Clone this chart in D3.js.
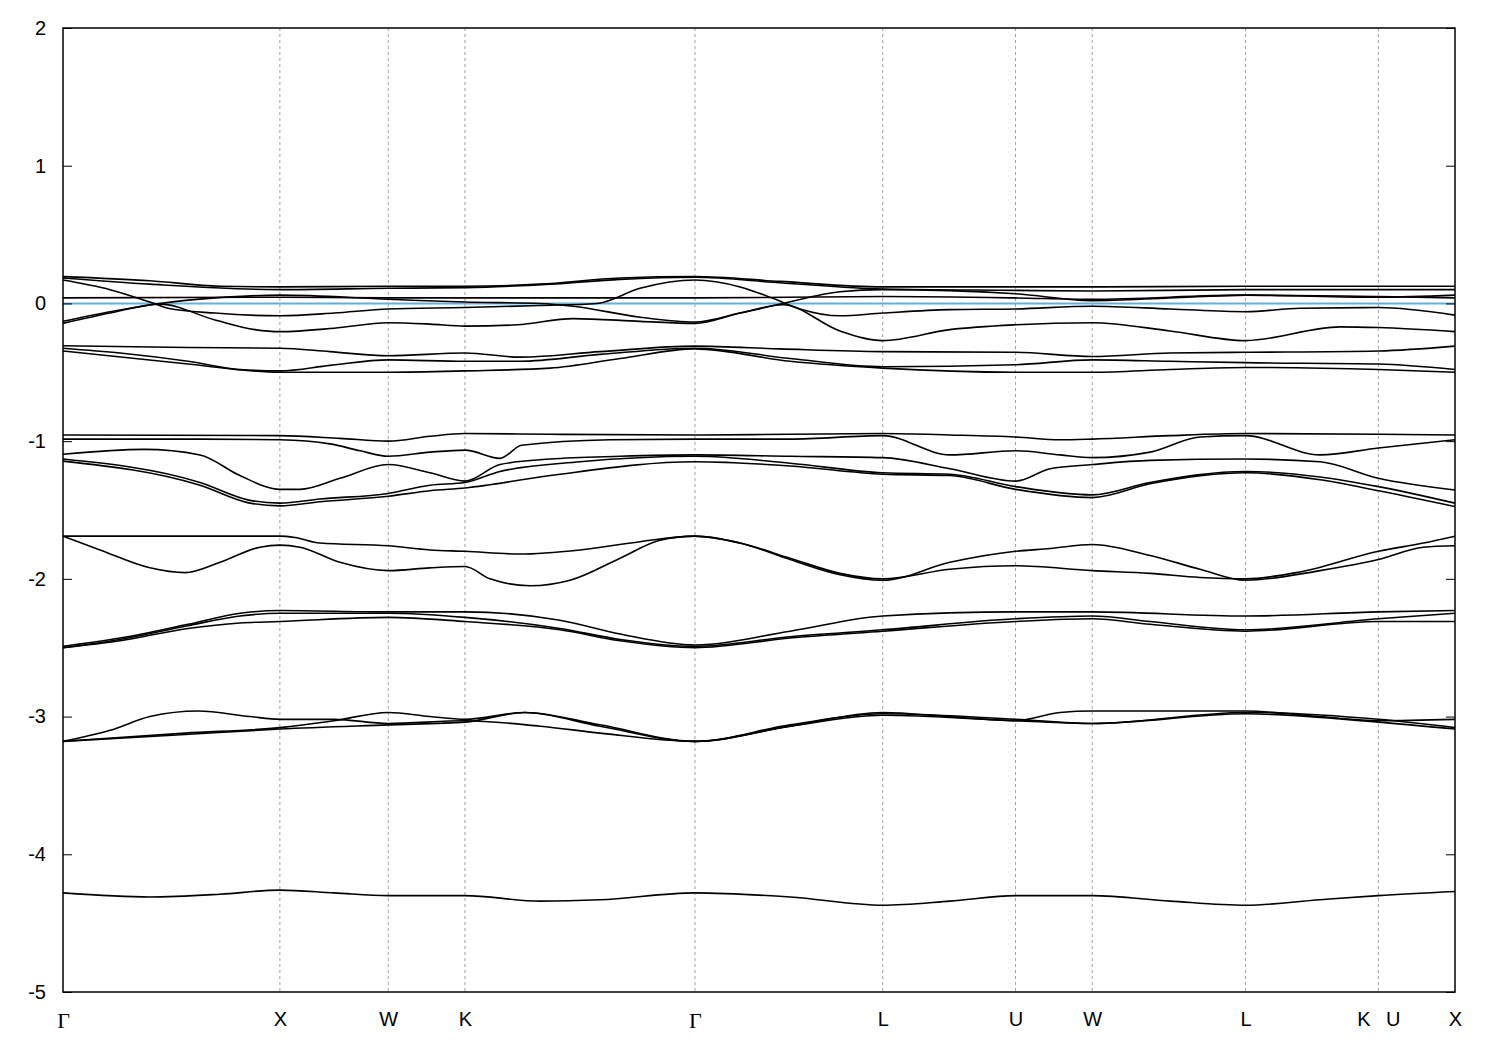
<!DOCTYPE html>
<html><head><meta charset="utf-8">
<script src="https://cdn.jsdelivr.net/npm/d3@7"></script>
<style>body{margin:0;background:#fff}svg{display:block}</style>
</head><body>
<script>
// High-symmetry path (k in units of 2pi/a, cumulative path length)
const kTicks = [0, 1.0, 1.5, 1.8536, 2.9142, 3.7802, 4.3926, 4.7462, 5.4533, 6.0657, 6.4192];
const kLabels = ["Γ", "X", "W", "K", "Γ", "L", "U", "W", "L", "K \u2002U", "X"];
const yTicks = [2, 1, 0, -1, -2, -3, -4, -5];
const fermiLevel = 0;

// Bands near the Fermi level
const bandA1 = [[0,.195],[0.401,.165],[0.724,.125],[1.0,.12],[1.5,.125],[1.854,.125],[2.2,.14],[2.569,.185],[2.914,.195],[3.306,.16],[3.78,.12],[4.393,.12],[4.746,.12],[5.453,.125],[6.066,.125],[6.419,.125]];
const bandA2 = [[0,.185],[0.401,.14],[1.0,.10],[1.5,.11],[1.854,.115],[2.246,.14],[2.569,.175],[2.914,.19],[3.306,.15],[3.78,.105],[4.393,.095],[4.746,.09],[5.453,.10],[6.066,.10],[6.419,.10]];
const bandA3 = [[0,.17],[0.217,.10],[0.41,.005],[0.484,-.035],[0.701,-.07],[1.0,-.09],[1.25,-.07],[1.5,-.04],[1.854,-.03],[2.2,-.015],[2.463,0],[2.661,.11],[2.914,.17],[3.122,.12],[3.274,.037],[3.399,-.04],[3.583,-.09],[3.78,-.07],[4.09,-.045],[4.393,-.04],[4.746,-.02],[5.105,-.04],[5.453,-.06],[5.704,-.035],[6.066,-.03],[6.419,-.085]];
const bandA4 = [[0,.04],[1.0,.045],[1.5,.04],[1.854,.04],[2.914,.04],[3.78,.05],[4.393,.04],[4.746,.03],[5.453,.06],[6.066,.05],[6.419,.04]];
const bandA5 = [[0,-.13],[0.217,-.06],[0.447,0],[0.701,.04],[1.0,.06],[1.5,.03],[1.854,.01],[2.2,0],[2.352,-.02],[2.661,-.10],[2.914,-.135],[3.122,-.07],[3.32,0],[3.583,.085],[3.78,.10],[4.393,.07],[4.746,.02],[5.105,.04],[5.453,.06],[6.066,.045],[6.419,.06]];
const bandA6 = [[0,-.145],[0.217,-.07],[0.447,-.005],[0.701,-.12],[0.885,-.19],[1.0,-.205],[1.25,-.18],[1.5,-.14],[1.692,-.15],[1.854,-.165],[2.094,-.155],[2.352,-.11],[2.661,-.13],[2.914,-.145],[3.122,-.07],[3.32,-.01],[3.583,-.2],[3.78,-.27],[4.09,-.19],[4.393,-.155],[4.746,-.14],[5.105,-.2],[5.453,-.27],[5.889,-.17],[6.066,-.175],[6.419,-.205]];

// -0.3 .. -0.5 group
const bandD1 = [[0,-.307],[0.576,-.32],[1.0,-.325],[1.231,-.35],[1.5,-.38],[1.854,-.36],[2.107,-.39],[2.476,-.35],[2.914,-.31],[3.306,-.33],[3.78,-.35],[4.393,-.355],[4.746,-.385],[5.105,-.36],[5.453,-.355],[6.066,-.345],[6.419,-.31]];
const bandD2 = [[0,-.325],[0.263,-.36],[0.576,-.42],[0.816,-.48],[1.0,-.49],[1.231,-.45],[1.5,-.41],[1.854,-.42],[2.107,-.42],[2.476,-.37],[2.914,-.325],[3.353,-.40],[3.78,-.46],[4.393,-.445],[4.746,-.41],[5.105,-.42],[5.453,-.43],[6.066,-.44],[6.419,-.48]];
const bandD3 = [[0,-.345],[0.576,-.44],[1.0,-.50],[1.5,-.50],[1.854,-.49],[2.246,-.47],[2.569,-.40],[2.914,-.33],[3.353,-.42],[3.78,-.47],[4.393,-.50],[4.746,-.50],[5.105,-.48],[5.453,-.465],[6.066,-.48],[6.419,-.50]];

// -1 .. -1.5 group
const bandC1 = [[0,-.955],[1.0,-.96],[1.277,-.98],[1.5,-1.0],[1.692,-.965],[1.854,-.945],[2.246,-.95],[2.914,-.955],[3.353,-.95],[3.78,-.945],[4.09,-.955],[4.393,-.97],[4.598,-.99],[4.746,-.985],[5.105,-.96],[5.453,-.945],[6.066,-.95],[6.419,-.955]];
const bandC2 = [[0,-.985],[0.632,-.985],[1.0,-.99],[1.231,-1.02],[1.37,-1.07],[1.5,-1.11],[1.692,-1.08],[1.854,-1.065],[2.015,-1.125],[2.115,-1.03],[2.522,-.99],[2.914,-.985],[3.353,-.985],[3.78,-.96],[4.09,-1.1],[4.393,-1.07],[4.598,-1.1],[4.746,-1.12],[5.013,-1.08],[5.243,-.97],[5.453,-.96],[5.797,-1.1],[6.066,-1.05],[6.419,-.99]];
const bandC3 = [[0,-1.095],[0.374,-1.06],[0.632,-1.1],[0.816,-1.25],[1.0,-1.35],[1.093,-1.35],[1.277,-1.27],[1.5,-1.17],[1.692,-1.23],[1.854,-1.29],[2.015,-1.17],[2.246,-1.13],[2.569,-1.11],[2.914,-1.10],[3.353,-1.11],[3.78,-1.12],[4.09,-1.2],[4.393,-1.29],[4.552,-1.2],[4.746,-1.17],[5.013,-1.14],[5.453,-1.13],[5.797,-1.15],[6.066,-1.27],[6.419,-1.355]];
const bandC4 = [[0,-1.13],[0.632,-1.3],[0.862,-1.43],[1.0,-1.45],[1.185,-1.42],[1.5,-1.38],[1.692,-1.32],[1.854,-1.30],[2.015,-1.22],[2.384,-1.15],[2.914,-1.11],[3.353,-1.16],[3.78,-1.23],[4.09,-1.24],[4.393,-1.33],[4.746,-1.39],[5.013,-1.3],[5.453,-1.22],[5.797,-1.26],[6.066,-1.33],[6.419,-1.45]];
const bandC5 = [[0,-1.145],[0.632,-1.32],[0.862,-1.45],[1.0,-1.47],[1.185,-1.44],[1.5,-1.40],[1.692,-1.36],[1.854,-1.34],[2.246,-1.25],[2.914,-1.15],[3.353,-1.18],[3.78,-1.24],[4.09,-1.25],[4.393,-1.35],[4.746,-1.41],[5.013,-1.31],[5.453,-1.23],[5.797,-1.28],[6.066,-1.36],[6.419,-1.475]];

// -1.7 .. -2.05 group
const bandE1 = [[0,-1.69],[0.701,-1.69],[1.0,-1.69],[1.07,-1.70],[1.185,-1.74],[1.5,-1.76],[1.692,-1.79],[1.854,-1.80],[2.107,-1.82],[2.384,-1.79],[2.661,-1.73],[2.914,-1.69],[3.122,-1.74],[3.353,-1.85],[3.583,-1.96],[3.78,-2.0],[4.09,-1.93],[4.393,-1.905],[4.746,-1.94],[5.013,-1.96],[5.243,-1.99],[5.453,-2.0],[5.704,-1.95],[6.066,-1.80],[6.273,-1.74],[6.419,-1.69]];
const bandE2 = [[0,-1.69],[0.171,-1.79],[0.401,-1.92],[0.563,-1.955],[0.724,-1.88],[0.908,-1.77],[1.0,-1.755],[1.093,-1.77],[1.277,-1.88],[1.5,-1.94],[1.692,-1.92],[1.854,-1.91],[1.969,-2.0],[2.154,-2.05],[2.338,-2.01],[2.569,-1.85],[2.753,-1.72],[2.914,-1.69],[3.122,-1.74],[3.353,-1.86],[3.583,-1.97],[3.78,-2.01],[4.09,-1.88],[4.393,-1.80],[4.552,-1.78],[4.746,-1.75],[5.013,-1.83],[5.243,-1.93],[5.453,-2.01],[5.797,-1.94],[6.066,-1.86],[6.273,-1.77],[6.419,-1.76]];

// -2.2 .. -2.5 group
const bandF1 = [[0,-2.49],[0.263,-2.43],[0.576,-2.33],[0.816,-2.25],[1.0,-2.23],[1.5,-2.24],[1.854,-2.24],[2.292,-2.3],[2.569,-2.4],[2.914,-2.48],[3.353,-2.38],[3.78,-2.27],[4.393,-2.24],[4.746,-2.24],[5.453,-2.27],[6.066,-2.24],[6.419,-2.23]];
const bandF2 = [[0,-2.50],[0.263,-2.44],[0.576,-2.34],[0.816,-2.27],[1.0,-2.25],[1.5,-2.25],[1.854,-2.28],[2.292,-2.36],[2.569,-2.44],[2.914,-2.49],[3.353,-2.42],[3.78,-2.37],[4.393,-2.29],[4.746,-2.27],[5.013,-2.31],[5.453,-2.37],[6.066,-2.29],[6.419,-2.25]];
const bandF3 = [[0,-2.50],[0.263,-2.45],[0.576,-2.36],[0.816,-2.32],[1.0,-2.31],[1.5,-2.28],[1.854,-2.31],[2.292,-2.37],[2.569,-2.45],[2.914,-2.50],[3.353,-2.43],[3.78,-2.38],[4.393,-2.31],[4.746,-2.29],[5.013,-2.33],[5.453,-2.38],[6.066,-2.31],[6.419,-2.31]];

// -3 group
const bandG1 = [[0,-3.18],[0.217,-3.1],[0.401,-3.0],[0.623,-2.96],[0.862,-3.0],[1.0,-3.02],[1.25,-3.02],[1.5,-3.05],[1.854,-3.03],[2.2,-3.07],[2.476,-3.12],[2.914,-3.18],[3.353,-3.07],[3.78,-2.97],[4.09,-3.0],[4.393,-3.03],[4.598,-2.97],[4.746,-2.96],[5.105,-2.96],[5.453,-2.96],[5.797,-3.0],[6.066,-3.03],[6.419,-3.02]];
const bandG2 = [[0,-3.18],[0.563,-3.12],[1.0,-3.08],[1.25,-3.03],[1.5,-2.97],[1.692,-3.0],[1.854,-3.02],[2.13,-2.97],[2.476,-3.06],[2.914,-3.18],[3.353,-3.06],[3.78,-2.98],[4.393,-3.02],[4.746,-3.05],[5.453,-2.97],[6.066,-3.02],[6.419,-3.08]];
const bandG3 = [[0,-3.18],[0.563,-3.13],[1.0,-3.09],[1.5,-3.06],[1.854,-3.04],[2.13,-2.97],[2.476,-3.07],[2.914,-3.18],[3.353,-3.07],[3.78,-2.99],[4.393,-3.03],[4.746,-3.05],[5.453,-2.98],[6.066,-3.04],[6.419,-3.09]];

// lowest band
const bandH1 = [[0,-4.28],[0.401,-4.31],[0.724,-4.29],[1.0,-4.26],[1.25,-4.28],[1.5,-4.30],[1.854,-4.30],[2.2,-4.34],[2.476,-4.33],[2.914,-4.28],[3.353,-4.31],[3.78,-4.37],[4.09,-4.34],[4.393,-4.30],[4.746,-4.30],[5.105,-4.34],[5.453,-4.37],[5.797,-4.33],[6.066,-4.30],[6.419,-4.27]];

const bands = [bandA1,bandA2,bandA3,bandA4,bandA5,bandA6,bandD1,bandD2,bandD3,
  bandC1,bandC2,bandC3,bandC4,bandC5,bandE1,bandE2,bandF1,bandF2,bandF3,
  bandG1,bandG2,bandG3,bandH1];

const W = 1500, H = 1050;
const m = {left: 63, right: 45, top: 28, bottom: 58};
const sans = "'Liberation Sans', Arial, Helvetica, sans-serif";
const serif = "'Liberation Serif', 'Times New Roman', serif";
const svg = d3.select("body").append("svg").attr("width", W).attr("height", H)
  .style("font-family", sans);
svg.append("rect").attr("width", W).attr("height", H).attr("fill", "#fff");

const x = d3.scaleLinear().domain([kTicks[0], kTicks[kTicks.length-1]]).range([m.left, W - m.right]);
const y = d3.scaleLinear().domain([-5, 2]).range([H - m.bottom, m.top]);

// vertical dashed lines at interior symmetry points
svg.append("g").selectAll("line").data(kTicks.slice(1, -1)).join("line")
  .attr("x1", d => x(d)).attr("x2", d => x(d))
  .attr("y1", y(2)).attr("y2", y(-5))
  .attr("stroke", "#a0a0a0").attr("stroke-width", 1).attr("stroke-dasharray", "3,3");

// Fermi level
svg.append("line").attr("x1", x.range()[0]).attr("x2", x.range()[1])
  .attr("y1", y(fermiLevel)).attr("y2", y(fermiLevel))
  .attr("stroke", "#56b4e9").attr("stroke-width", 2);

const line = d3.line().x(d => x(d[0])).y(d => y(d[1])).curve(d3.curveMonotoneX);
svg.append("g").selectAll("path").data(bands).join("path")
  .attr("d", line).attr("fill", "none").attr("stroke", "#000").attr("stroke-width", 1.6);

// axes
const yl = svg.append("g").attr("transform", `translate(${m.left},0)`)
  .call(d3.axisLeft(y).tickValues(yTicks).tickSize(-9).tickPadding(17).tickFormat(d => String(d)));
yl.select(".domain").remove();
yl.selectAll("line").attr("stroke", "#000").attr("stroke-width", 1);
yl.selectAll("text").attr("font-size", 20).attr("fill", "#000").attr("font-family", sans);

const yr = svg.append("g").attr("transform", `translate(${W - m.right},0)`)
  .call(d3.axisRight(y).tickValues(yTicks).tickSize(-9).tickFormat(""));
yr.select(".domain").remove();
yr.selectAll("line").attr("stroke", "#000").attr("stroke-width", 1);

const xb = svg.append("g").attr("transform", `translate(0,${H - m.bottom})`)
  .call(d3.axisBottom(x).tickValues(kTicks).tickSize(0).tickPadding(20).tickFormat((d, i) => kLabels[i]));
xb.select(".domain").remove();
xb.selectAll("text").attr("fill", "#000").style("white-space", "pre")
  .attr("font-family", (d, i) => kLabels[i] === "Γ" ? serif : sans)
  .attr("font-size", (d, i) => kLabels[i] === "Γ" ? 22 : 20);

// frame
svg.append("rect").attr("x", m.left).attr("y", m.top)
  .attr("width", W - m.left - m.right).attr("height", H - m.top - m.bottom)
  .attr("fill", "none").attr("stroke", "#000").attr("stroke-width", 1.5);
</script>
</body></html>
